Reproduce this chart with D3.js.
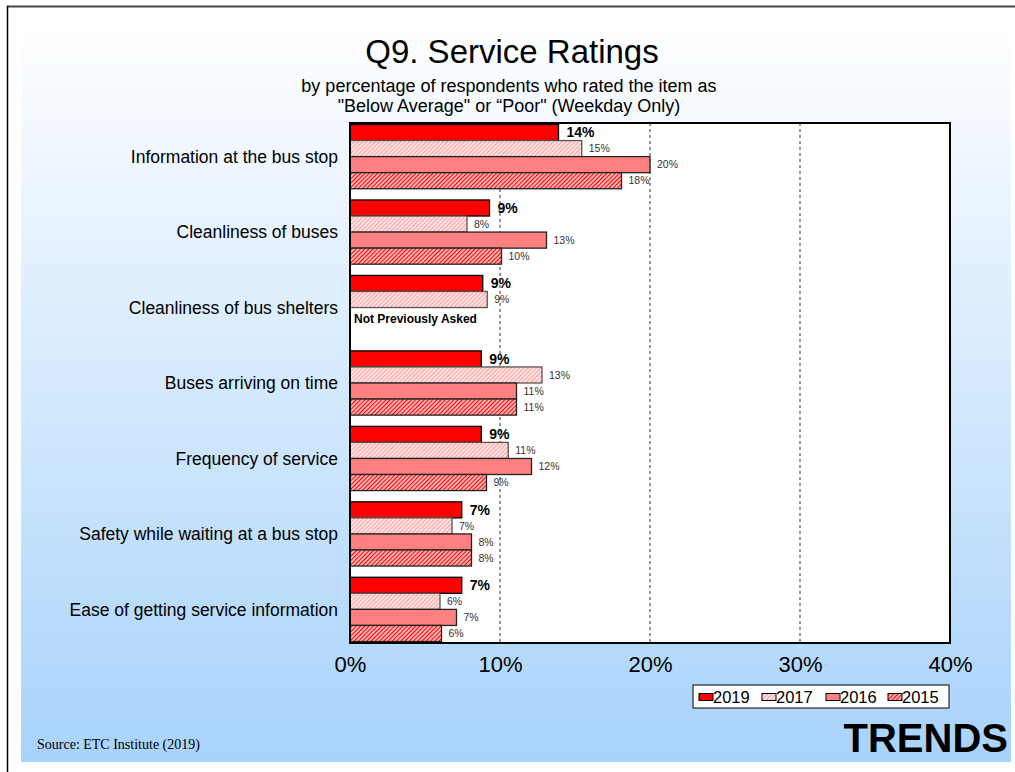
<!DOCTYPE html>
<html>
<head>
<meta charset="utf-8">
<script src="https://cdn.jsdelivr.net/npm/d3@7"></script>
<style>
  html, body { margin: 0; padding: 0; background: #ffffff; }
  svg { display: block; }
</style>
</head>
<body>
<svg id="chart" width="1015" height="772"></svg>
<script>
// Survey items (top to bottom)
const categories = [
  "Information at the bus stop",
  "Cleanliness of buses",
  "Cleanliness of bus shelters",
  "Buses arriving on time",
  "Frequency of service",
  "Safety while waiting at a bus stop",
  "Ease of getting service information"
];
const years = ["2019", "2017", "2016", "2015"];

// Percent rating "Below Average" or "Poor" per year (null = not asked)
const values2019 = [13.9, 9.3, 8.85, 8.75, 8.75, 7.45, 7.45];
const values2017 = [15.45, 7.8, 9.15, 12.8, 10.55, 6.8, 6.0];
const values2016 = [20.0, 13.1, null, 11.1, 12.1, 8.1, 7.1];
const values2015 = [18.1, 10.1, null, 11.1, 9.1, 8.1, 6.1];
const seriesValues = [values2019, values2017, values2016, values2015];

const xTicks = [0, 10, 20, 30, 40];

const svg = d3.select("#chart");
const W = 1015, H = 772;
const SANS = "Liberation Sans, Arial, sans-serif";

// ---- Background panel with vertical gradient ----
const defs = svg.append("defs");
const grad = defs.append("linearGradient").attr("id", "bg").attr("x1", 0).attr("y1", 0).attr("x2", 0).attr("y2", 1);
grad.append("stop").attr("offset", "0%").attr("stop-color", "#ffffff");
grad.append("stop").attr("offset", "100%").attr("stop-color", "#a8d3fb");

svg.append("rect").attr("x", 0).attr("y", 0).attr("width", W).attr("height", H).attr("fill", "#ffffff");
svg.append("rect").attr("x", 21).attr("y", 23).attr("width", 990).attr("height", 739).attr("fill", "url(#bg)");
// Page border
svg.append("line").attr("x1", 7).attr("x2", W).attr("y1", 6.5).attr("y2", 6.5).attr("stroke", "#444").attr("stroke-width", 2);
svg.append("line").attr("x1", 7.5).attr("x2", 7.5).attr("y1", 6).attr("y2", H).attr("stroke", "#000").attr("stroke-width", 1.5);

// ---- Hatch patterns ----
function hatch(id, color, spacing, width) {
  const p = defs.append("pattern").attr("id", id).attr("patternUnits", "userSpaceOnUse")
    .attr("width", spacing).attr("height", spacing).attr("patternTransform", "rotate(45)");
  p.append("rect").attr("width", spacing).attr("height", spacing).attr("fill", "#ffffff");
  p.append("line").attr("x1", spacing / 2).attr("y1", 0).attr("x2", spacing / 2).attr("y2", spacing)
    .attr("stroke", color).attr("stroke-width", width);
}
hatch("h2017", "#ff9c9c", 3, 1.5);
hatch("h2015", "#ff0000", 3, 1.6);

const fills = ["#ff0000", "url(#h2017)", "#ff8080", "url(#h2015)"];
const strokes = ["#000000", "#555555", "#222222", "#222222"];

// ---- Scales ----
const plot = { left: 350, right: 950, top: 123, bottom: 643 };
const x = d3.scaleLinear().domain([0, 40]).range([plot.left, plot.right]);
const y0 = d3.scaleBand().domain(categories).range([plot.top, plot.bottom]).paddingInner(0.149).paddingOuter(0.02);
const y1 = d3.scaleBand().domain(years).range([0, y0.bandwidth()]);

// ---- Titles ----
svg.append("text").attr("x", 512).attr("y", 63).attr("text-anchor", "middle")
  .attr("font-family", SANS).attr("font-size", 33)
  .attr("fill", "#000").text("Q9. Service Ratings");
svg.append("text").attr("x", 509).attr("y", 92).attr("text-anchor", "middle")
  .attr("font-family", SANS).attr("font-size", 18)
  .attr("fill", "#000").text("by percentage of respondents who rated the item as");
svg.append("text").attr("x", 509).attr("y", 112).attr("text-anchor", "middle")
  .attr("font-family", SANS).attr("font-size", 18)
  .attr("fill", "#000").text("\"Below Average\" or \u201cPoor\" (Weekday Only)");

// ---- Plot area ----
svg.append("rect").attr("x", plot.left).attr("y", plot.top)
  .attr("width", plot.right - plot.left).attr("height", plot.bottom - plot.top)
  .attr("fill", "#ffffff");

// Gridlines
svg.append("g").selectAll("line").data(xTicks.filter(t => t > 0 && t < 40)).join("line")
  .attr("x1", d => x(d)).attr("x2", d => x(d))
  .attr("y1", plot.top).attr("y2", plot.bottom)
  .attr("stroke", "#333").attr("stroke-width", 1).attr("stroke-dasharray", "3,3");

// Bars
const groups = svg.append("g").selectAll("g").data(categories).join("g")
  .attr("transform", d => `translate(0,${y0(d)})`);

groups.each(function(cat, ci) {
  const g = d3.select(this);
  years.forEach((yr, si) => {
    const v = seriesValues[si][ci];
    if (v == null) return;
    g.append("rect")
      .attr("x", x(0)).attr("y", y1(yr))
      .attr("width", x(v) - x(0)).attr("height", y1.bandwidth())
      .attr("fill", fills[si]).attr("stroke", strokes[si]).attr("stroke-width", 1.3);
    const bold = si === 0;
    g.append("text")
      .attr("x", x(v) + (bold ? 8 : 7))
      .attr("y", y1(yr) + y1.bandwidth() / 2)
      .attr("dy", "0.35em")
      .attr("font-family", SANS)
      .attr("font-size", bold ? 14 : 10.5)
      .attr("font-weight", bold ? "bold" : "normal")
      .attr("fill", bold ? "#000" : "#333")
      .text(Math.round(v) + "%");
  });
  if (seriesValues[2][ci] == null && seriesValues[3][ci] == null) {
    g.append("text")
      .attr("x", x(0) + 4)
      .attr("y", y1("2016") + y1.bandwidth() / 2 + 3)
      .attr("dy", "0.35em")
      .attr("font-family", SANS)
      .attr("font-size", 12).attr("font-weight", "bold").attr("fill", "#000")
      .text("Not Previously Asked");
  }
});

// Plot frame
svg.append("rect").attr("x", plot.left).attr("y", plot.top)
  .attr("width", plot.right - plot.left).attr("height", plot.bottom - plot.top)
  .attr("fill", "none").attr("stroke", "#000").attr("stroke-width", 2);

// Category labels
svg.append("g").selectAll("text").data(categories).join("text")
  .attr("x", 338).attr("y", d => y0(d) + y0.bandwidth() / 2)
  .attr("dy", "0.35em").attr("text-anchor", "end")
  .attr("font-family", SANS).attr("font-size", 17.5)
  .attr("fill", "#000").text(d => d);

// X axis
const xAxis = d3.axisBottom(x).tickValues(xTicks).tickFormat(d => d + "%").tickSize(0).tickPadding(13);
const ax = svg.append("g").attr("transform", `translate(0,${plot.bottom})`).call(xAxis);
ax.select(".domain").remove();
ax.selectAll("text").attr("font-family", SANS)
  .attr("font-size", 22).attr("fill", "#000");

// Legend
const legend = svg.append("g").attr("transform", "translate(693,685)");
legend.append("rect").attr("width", 256).attr("height", 23).attr("fill", "#fff").attr("stroke", "#000").attr("stroke-width", 1);
const legendX = [6, 69, 133, 195];
years.forEach((yr, i) => {
  const lg = legend.append("g").attr("transform", `translate(${legendX[i]},0)`);
  lg.append("rect").attr("x", 0).attr("y", 8.5).attr("width", 14).attr("height", 7)
    .attr("fill", fills[i]).attr("stroke", "#000").attr("stroke-width", 1);
  lg.append("text").attr("x", 14).attr("y", 12).attr("dy", "0.36em")
    .attr("font-family", SANS).attr("font-size", 16.5)
    .attr("fill", "#000").text(yr);
});

// Footer
svg.append("text").attr("x", 37).attr("y", 749)
  .attr("font-family", "Liberation Serif, Times New Roman, serif").attr("font-size", 14)
  .attr("fill", "#000").text("Source: ETC Institute (2019)");
svg.append("text").attr("x", 1008).attr("y", 752).attr("text-anchor", "end")
  .attr("font-family", SANS).attr("font-size", 40)
  .attr("font-weight", "bold").attr("fill", "#000").text("TRENDS");
</script>
</body>
</html>
